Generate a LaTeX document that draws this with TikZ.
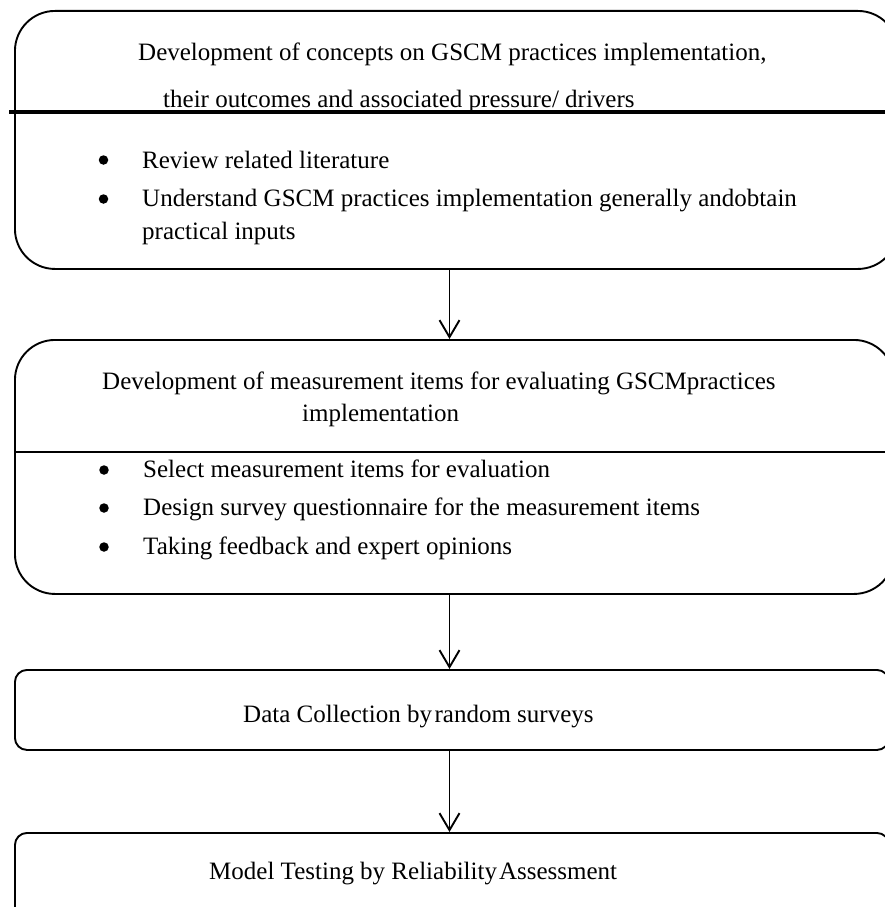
\documentclass[tikz,border=0pt]{standalone}
\usepackage{fontspec}
\setmainfont{Liberation Serif}
\usetikzlibrary{arrows.meta}
\tikzset{
  stage/.style={
    draw, line width=1.9pt,
    anchor=north west, inner sep=0pt,
  },
  txt/.style={
    anchor=base west, inner sep=0pt,
    font=\fontsize{25}{30}\selectfont,
  },
  dot/.style={
    circle, fill, inner sep=0pt, minimum size=9.5pt,
  }
}
\begin{document}
\begin{tikzpicture}[x=1pt,y=-1pt]
    \useasboundingbox (0,0) rectangle (885,907);
    \clip (0,0) rectangle (885,907);

    % the four stages
    \begin{scope}[every node/.style={stage}]
        \node[rounded corners=40pt, minimum width=883pt, minimum height=258pt] (Concepts)   at (14,10)  {};
        \node[rounded corners=40pt, minimum width=879pt, minimum height=254pt] (Items)      at (14,339) {};
        \node[rounded corners=12pt, minimum width=874pt, minimum height=80pt]  (Collection) at (14,669) {};
        \node[rounded corners=12pt, minimum width=874pt, minimum height=110pt] (Testing)    at (14,832) {};
    \end{scope}

    % header rules
    \draw[line width=4pt] (9,112) -- (890,112);
    \draw[line width=1.9pt] (Items.west |- 0,452) -- (890,452);

    % texts of the first stage
    \node[txt] (C1) at (138,60)  {Development of concepts on GSCM practices implementation,};
    \node[txt] (C2) at (163,107) {their outcomes and associated pressure/ drivers};
    \node[txt] (C3) at (142,168) {Review related literature};
    \node[txt] (C4) at (142,206) {Understand GSCM practices implementation generally andobtain};
    \node[txt] (C5) at (142,239) {practical inputs};
    \node[dot] (D1) at (103.5,160) {};
    \node[dot] (D2) at (103.5,199) {};

    % texts of the second stage
    \node[txt] (I1) at (102,389) {Development of measurement items for evaluating GSCMpractices};
    \node[txt] (I2) at (302,421) {implementation};
    \node[txt] (I3) at (143,477) {Select measurement items for evaluation};
    \node[txt] (I4) at (143,515) {Design survey questionnaire for the measurement items};
    \node[txt] (I5) at (143,554) {Taking feedback and expert opinions};
    \node[dot] (D3) at (104,470) {};
    \node[dot] (D4) at (104,508) {};
    \node[dot] (D5) at (104,547) {};

    % last two stages
    \node[txt] (S1) at (243,722) {Data Collection by\kern2.5pt random surveys};
    \node[txt] (S2) at (209,879) {Model Testing by Reliability\kern2pt Assessment};

    \coordinate (Axis) at (449.5,0);
    \begin{scope}[>={Straight Barb[length=17pt,width=20pt,line width=1.9pt]}, every edge/.style={draw,line width=1.9pt}]
        \path [->] (Concepts.south -| Axis)   edge (Items.north -| Axis);
        \path [->] (Items.south -| Axis)      edge (Collection.north -| Axis);
        \path [->] (Collection.south -| Axis) edge (Testing.north -| Axis);
    \end{scope}
\end{tikzpicture}
\end{document}
